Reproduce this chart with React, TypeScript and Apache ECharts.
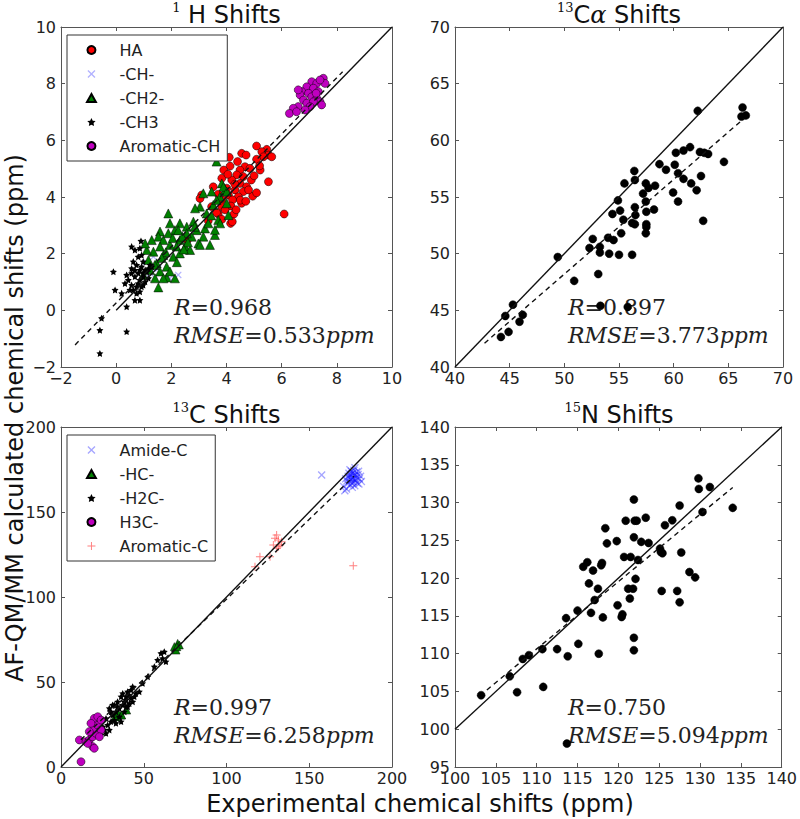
import React, { useEffect, useRef } from 'react';
import * as echarts from 'echarts';

// ---------- 1H panel ----------
const haPts = [[5.09,5.80],[5.46,5.68],[5.28,5.60],[4.55,5.54],[4.71,5.48],[5.52,5.48],[5.34,5.42],[5.09,5.33],[5.64,5.42],[4.13,5.09],[4.67,5.07],[4.49,4.95],[4.85,5.01],[5.22,4.95],[4.37,4.78],[3.83,4.66],[4.19,4.60],[4.61,4.72],[3.52,4.36],[4.49,4.48],[4.73,4.36],[4.01,4.31],[4.31,4.25],[5.52,4.54],[4.61,4.19],[4.07,4.07],[4.43,4.01],[4.95,4.03],[3.10,4.07],[3.83,3.90],[4.22,3.90],[3.46,3.66],[3.83,3.66],[4.16,3.68],[4.55,3.78],[3.70,3.40],[4.27,3.40],[3.34,3.16],[3.83,3.21],[4.15,3.07],[6.09,3.40],[5.09,4.15],[3.04,3.95],[3.64,3.45],[4.21,3.13],[4.50,3.89],[4.70,3.85],[4.35,3.55],[3.95,3.55],[2.58,2.48],[4.90,4.60],[5.00,4.75],[4.40,5.25],[3.90,4.95],[4.05,4.80],[4.30,4.45],[3.70,4.10],[4.80,4.25],[5.20,5.10],[4.10,5.40]];
const chPts = [[1.35,1.89],[1.53,1.48],[1.23,1.31],[1.95,1.13],[2.25,1.25],[1.10,1.70],[3.90,4.15]];
const ch2Pts = [[3.16,4.13],[3.46,4.19],[3.76,4.01],[3.95,4.25],[3.04,3.66],[3.52,3.72],[3.28,3.42],[3.70,3.19],[3.58,2.66],[3.16,2.60],[2.92,2.83],[2.80,3.13],[2.56,2.95],[2.74,2.60],[2.31,3.07],[2.13,2.83],[1.95,3.07],[1.59,2.78],[1.53,2.60],[1.71,2.48],[1.89,2.72],[2.31,2.48],[2.50,2.25],[2.19,2.25],[1.95,2.31],[1.59,2.25],[1.35,2.07],[1.71,1.95],[2.07,1.89],[2.31,2.01],[2.68,2.13],[2.98,2.36],[3.40,2.31],[1.17,1.78],[1.47,1.66],[1.83,1.54],[1.59,1.37],[2.13,1.13],[1.83,1.16],[1.95,1.37],[1.53,0.81],[1.11,2.13],[1.05,2.36],[0.98,1.25],[1.23,1.42],[2.56,2.72],[3.22,2.89],[3.64,3.89],[4.01,3.78],[2.25,2.83],[1.89,3.42],[2.86,3.60],[3.34,3.07],[3.04,2.31],[1.29,2.48],[1.41,1.13],[1.71,1.13],[3.64,5.25],[3.83,4.48],[3.89,4.36],[4.01,4.19],[3.77,3.07],[4.07,3.36],[3.58,2.84],[2.40,2.60],[2.05,2.55],[1.80,2.05],[2.60,2.40],[2.20,1.70],[1.40,1.60],[2.85,2.95],[3.45,3.35],[1.65,1.85],[2.45,2.15]];
const ch3Pts = [[0.86,2.19],[0.92,1.95],[0.62,1.72],[0.56,1.48],[0.74,1.60],[0.98,1.72],[1.05,1.42],[0.80,1.31],[0.68,1.19],[0.86,1.07],[0.98,0.89],[0.74,0.83],[0.62,0.72],[0.86,0.66],[0.44,1.07],[0.32,0.95],[0.50,0.72],[-0.10,1.36],[-0.04,0.72],[0.20,0.60],[0.38,0.13],[0.68,0.36],[0.86,0.36],[-0.53,-0.28],[-0.59,-0.70],[0.38,-0.75],[-0.59,-1.52],[1.17,1.13],[0.80,1.89],[0.92,1.54],[1.11,1.36],[1.23,1.60],[0.68,2.13],[0.98,1.19],[0.80,0.95],[0.56,1.31],[0.38,1.25],[0.74,0.60],[0.92,0.83],[1.05,1.01],[0.56,0.89],[0.86,1.42],[0.68,1.42],[0.98,1.31],[1.17,1.48],[1.29,1.54],[0.56,2.25],[0.90,2.45]];
const aromHPts = [[7.09,8.07],[7.27,8.01],[7.51,8.19],[7.57,8.01],[6.91,7.89],[7.15,7.84],[6.73,7.72],[6.67,7.60],[6.97,7.66],[7.33,7.72],[7.09,7.54],[6.79,7.42],[7.27,7.48],[6.91,7.31],[6.60,7.19],[6.42,7.13],[6.28,6.95],[6.54,7.01],[7.39,7.36],[7.45,7.25],[7.15,7.36],[7.03,7.19],[6.85,7.07],[7.25,7.66],[7.39,8.13],[6.60,7.78]];
const hFit = [[-1.49,-1.22],[8.21,8.42]];
const hDiag = [[0,0],[10,10]];

// ---------- 13C-alpha panel ----------
const caPts = [[44.2,42.65],[44.6,44.5],[44.9,43.1],[45.3,45.5],[45.9,44.0],[46.2,44.6],[49.4,49.7],[50.9,47.6],[52.3,50.5],[52.6,51.3],[53.1,48.2],[53.25,50.6],[53.25,50.1],[54.0,51.4],[54.1,50.0],[54.5,51.2],[54.4,53.5],[54.9,54.7],[55.1,53.8],[55.0,49.9],[55.2,51.8],[55.4,53.0],[55.5,56.2],[56.2,52.7],[56.2,49.9],[56.4,57.3],[56.45,56.5],[56.45,54.1],[56.5,53.4],[56.45,52.6],[57.2,55.3],[57.45,56.2],[57.45,54.6],[57.5,52.6],[57.5,52.35],[57.45,51.8],[57.5,53.7],[57.7,55.8],[58.3,56.0],[58.2,53.9],[58.7,57.9],[59.3,57.4],[59.95,55.4],[60.1,57.85],[60.2,58.9],[60.4,57.1],[60.4,54.6],[60.9,59.1],[60.9,56.6],[61.5,59.4],[61.6,56.2],[62.1,55.6],[62.2,62.6],[62.4,58.97],[62.5,56.85],[62.8,58.9],[63.15,58.8],[62.7,52.9],[64.6,58.1],[66.3,62.9],[66.2,62.1],[66.6,62.2],[53.3,45.4],[55.8,45.3]];
const caFit = [[42.7,42.1],[66.4,61.9]];
const caDiag = [[40,40],[70,70]];

// ---------- 13C panel ----------
const amidePts = [[172.0,169.5],[173.5,171.0],[174.2,168.0],[175.0,170.5],[175.8,172.5],[176.5,169.0],[177.2,171.5],[178.0,168.5],[178.8,170.2],[179.5,172.0],[180.3,169.5],[181.0,171.0],[174.8,166.0],[176.0,166.8],[177.5,165.5],[173.0,166.5],[172.5,163.5],[171.5,162.5],[175.5,174.0],[177.0,174.5],[178.5,173.5],[176.2,170.0],[175.3,168.8],[177.8,169.6],[174.0,172.8],[179.0,167.0],[180.0,166.5],[181.5,168.0],[176.8,167.5],[175.0,171.8],[173.8,170.2],[178.3,171.8],[176.6,173.0],[174.6,174.8],[177.6,176.0],[172.8,168.2],[179.8,174.0],[176.0,164.5],[170.8,165.0],[157.5,171.8]];
const hcPts = [[70.5,72.7],[68.5,70.8],[71.5,71.8],[69.5,68.8],[70.0,70.8],[36.3,30.6],[34.2,29.6],[36.7,30.6],[32.6,29.6],[39.7,33.5],[34.6,31.6]];
const h2cPts = [[26.2,21.8],[28.2,24.7],[30.2,26.7],[27.2,28.6],[31.2,30.6],[33.2,32.5],[35.2,34.5],[37.3,36.5],[39.3,39.4],[41.3,42.3],[42.3,45.3],[43.3,47.2],[40.3,44.3],[36.3,41.4],[34.2,38.4],[32.2,36.5],[29.2,34.5],[30.2,32.5],[24.2,18.8],[25.2,23.7],[29.2,21.8],[32.2,27.6],[35.2,29.6],[38.3,32.5],[40.3,35.5],[43.3,38.4],[44.3,41.4],[37.3,43.3],[39.3,35.5],[47.3,44.3],[49.3,49.2],[52.4,53.1],[60.4,66.9],[62.4,67.8],[61.4,63.9],[63.4,62.0],[56.4,59.0],[58.4,62.9],[33.2,25.7],[36.3,26.7],[27.2,19.8],[31.2,36.5],[34.2,35.5],[38.3,38.4],[41.3,37.4],[42.3,40.4],[39.3,41.4],[45.3,43.3]];
const h3cPts = [[12.1,3.1],[11.1,15.9],[15.1,14.9],[17.1,15.9],[19.1,17.8],[21.1,19.8],[20.1,22.7],[22.2,24.7],[20.1,28.6],[22.2,29.6],[24.2,27.6],[17.1,20.8],[19.1,12.0],[20.1,11.0],[16.1,13.9],[24.2,21.8],[18.1,25.7],[23.2,17.8]];
const aromCPts = [[130.3,136.5],[131.3,133.5],[128.3,130.6],[132.3,130.6],[130.3,128.6],[120.2,123.7],[117.2,117.8],[126.3,123.7],[176.6,118.4],[129.3,134.5],[133.3,132.5],[131.3,129.6]];
const cFit = [[12,16],[177,171]];
const cDiag = [[0,0],[200,200]];

// ---------- 15N panel ----------
const nPts = [[103.2,104.5],[106.7,107.0],[107.6,104.9],[108.3,109.3],[109.05,109.8],[110.8,105.6],[110.7,110.6],[112.5,110.6],[113.6,114.7],[113.8,109.65],[113.7,98.1],[115.0,115.7],[115.1,111.3],[115.7,121.5],[116.2,122.1],[116.4,119.3],[116.65,115.4],[116.9,121.0],[117.1,117.1],[117.5,118.6],[117.6,110.0],[117.9,121.7],[118.0,122.0],[118.1,114.8],[118.4,126.6],[118.6,124.6],[119.8,124.9],[119.9,116.4],[120.4,114.85],[120.5,115.2],[120.7,122.8],[120.9,127.6],[121.2,118.6],[121.4,117.3],[121.5,122.8],[121.8,118.6],[121.9,130.4],[121.9,125.4],[122.0,127.6],[122.1,119.9],[121.9,112.1],[121.9,110.45],[122.25,127.6],[122.4,122.4],[122.8,124.8],[123.35,128.0],[123.7,124.65],[125.1,123.9],[125.2,123.45],[125.4,123.3],[125.3,118.3],[125.7,127.0],[126.6,127.65],[127.2,118.3],[127.5,116.8],[127.5,129.6],[127.7,123.4],[128.7,120.8],[129.4,120.1],[129.8,133.2],[129.85,131.8],[130.3,128.75],[131.2,132.05],[134.0,129.3]];
const nFit = [[103.9,105.2],[134.0,132.0]];
const nDiag = [[100,100],[140,140]];

// axis ranges [min, max, interval]
const xRanges = [[-2, 10, 2], [40, 70, 5], [0, 200, 50], [100, 140, 5]];
const yRanges = [[-2, 10, 2], [40, 70, 5], [0, 200, 50], [95, 140, 5]];
const titles = ['1', '13', '13', '15'];
const statR = ['0.968', '0.897', '0.997', '0.750'];
const statRMSE = ['0.533', '3.773', '6.258', '5.094'];

const STAR = 'path://M0,-10L2.94,-4.05L9.51,-3.09L4.76,1.55L5.88,8.09L0,5L-5.88,8.09L-4.76,1.55L-9.51,-3.09L-2.94,-4.05Z';
const XMARK = 'path://M0,1.2L1.2,0L5,3.8L8.8,0L10,1.2L6.2,5L10,8.8L8.8,10L5,6.2L1.2,10L0,8.8L3.8,5Z';
const PLUS = 'path://M4.4,0H5.6V4.4H10V5.6H5.6V10H4.4V5.6H0V4.4H4.4Z';
const TRI = 'path://M5,0L10,9L0,9Z';

const grids = [
  { left: 61, top: 27, width: 331, height: 340 },
  { left: 455, top: 27, width: 328, height: 340 },
  { left: 61, top: 427, width: 331, height: 340 },
  { left: 455, top: 427, width: 328, height: 340 },
];

const AX = '#555';
const FONT = 'DejaVu Sans';
const fmt = (v: number) => (v < 0 ? '\u2212' + Math.abs(v) : String(v));

function axes(kind: 'x' | 'y', gi: number, r: number[]) {
  const base: any = {
    type: 'value', gridIndex: gi, min: r[0], max: r[1], interval: r[2],
    splitLine: { show: false },
    axisLine: { show: true, onZero: false, lineStyle: { color: AX, width: 1 } },
    axisTick: { show: true, inside: true, length: 4, lineStyle: { color: AX } },
  };
  return [
    { ...base, position: kind === 'x' ? 'bottom' : 'left',
      axisLabel: { show: true, fontSize: 16, color: '#222', fontFamily: FONT, margin: kind === 'x' ? 3 : 5, formatter: fmt } },
    { ...base, position: kind === 'x' ? 'top' : 'right', axisLabel: { show: false } },
  ];
}

function scatter(name: string, gi: number, data: number[][], symbol: string, size: number, color: string, border = true) {
  return {
    type: 'scatter', name, xAxisIndex: gi * 2, yAxisIndex: gi * 2, data, symbol, symbolSize: size,
    itemStyle: border ? { color, borderColor: '#000', borderWidth: 0.5, opacity: 1 } : { color, opacity: 1 },
    silent: true, z: 2,
  };
}

function line(gi: number, data: number[][], dashed: boolean) {
  return {
    type: 'line', xAxisIndex: gi * 2, yAxisIndex: gi * 2, data, symbol: 'none', showSymbol: false,
    lineStyle: { color: '#111', width: 1.4, type: dashed ? [5, 4] : 'solid' }, silent: true, z: 3,
  };
}

function legend(top: number, items: { name: string; icon: string }[]) {
  return {
    data: items, orient: 'vertical', left: 67, top, itemWidth: 46, itemHeight: 8, itemGap: 8,
    padding: [7, 7, 7, 19], borderColor: '#333', borderWidth: 1, backgroundColor: '#fff',
    selectedMode: false, symbolKeepAspect: true,
    textStyle: { fontSize: 16, lineHeight: 16, fontFamily: FONT, color: '#222' },
  };
}

function buildOption() {
  const xAxis: any[] = [];
  const yAxis: any[] = [];
  for (let i = 0; i < 4; i++) {
    xAxis.push(...axes('x', i, xRanges[i]));
    yAxis.push(...axes('y', i, yRanges[i]));
  }
  const series: any[] = [
    scatter('HA', 0, haPts, 'circle', 8, '#ff0000'),
    scatter('-CH-', 0, chPts, XMARK, 7, 'rgba(0,0,255,0.3)', false),
    scatter('-CH2-', 0, ch2Pts, 'triangle', 9, '#008000'),
    scatter('-CH3', 0, ch3Pts, STAR, 7, '#000000', false),
    scatter('Aromatic-CH', 0, aromHPts, 'circle', 8, '#bf00bf'),
    line(0, hDiag, false), line(0, hFit, true),
    scatter('Cα', 1, caPts, 'circle', 8, '#000000'),
    line(1, caDiag, false), line(1, caFit, true),
    scatter('Amide-C', 2, amidePts, XMARK, 8, 'rgba(0,0,255,0.35)', false),
    scatter('-HC-', 2, hcPts, 'triangle', 8, '#008000'),
    scatter('-H2C-', 2, h2cPts, STAR, 7, '#000000', false),
    scatter('H3C-', 2, h3cPts, 'circle', 8, '#bf00bf'),
    scatter('Aromatic-C', 2, aromCPts, PLUS, 8, 'rgba(255,0,0,0.5)', false),
    line(2, cDiag, false), line(2, cFit, true),
    scatter('N', 3, nPts, 'circle', 8, '#000000'),
    line(3, nDiag, false), line(3, nFit, true),
  ];

  const rich = {
    s: { fontFamily: 'DejaVu Serif', fontSize: 13, verticalAlign: 'top', lineHeight: 28, fill: '#111' },
    t: { fontFamily: FONT, fontSize: 24, lineHeight: 28, fill: '#111' },
    g: { fontFamily: 'DejaVu Serif', fontStyle: 'italic', fontSize: 24, lineHeight: 28, fill: '#111' },
  };
  const titleTexts = [
    `{s|${titles[0]}}{t| H Shifts}`,
    `{s|${titles[1]}}{t|C}{g|α}{t| Shifts}`,
    `{s|${titles[2]}}{t|C Shifts}`,
    `{s|${titles[3]}}{t|N Shifts}`,
  ];
  const graphic: any[] = [];
  grids.forEach((g, i) => {
    graphic.push({
      type: 'text', x: g.left + g.width / 2, y: g.top - 12, silent: true,
      style: { text: titleTexts[i], rich, align: 'center', verticalAlign: 'middle' },
    });
    const sx = g.left + 113;
    const sy = g.top + 280;
    const mrich = {
      i: { fontFamily: 'DejaVu Serif', fontStyle: 'italic', fontSize: 22, fill: '#222' },
      n: { fontFamily: 'DejaVu Serif', fontSize: 22, fill: '#222' },
    };
    graphic.push({
      type: 'text', x: sx, y: sy, silent: true,
      style: { text: `{i|R}{n|=${statR[i]}}`, rich: mrich, align: 'left', verticalAlign: 'middle' },
    });
    graphic.push({
      type: 'text', x: sx, y: sy + 28, silent: true,
      style: { text: `{i|RMSE}{n|=${statRMSE[i]}}{i|ppm}`, rich: mrich, align: 'left', verticalAlign: 'middle' },
    });
  });
  graphic.push({
    type: 'text', x: 420, y: 804, silent: true,
    style: { text: 'Experimental chemical shifts (ppm)', font: `24px "${FONT}"`, fill: '#111', align: 'center', verticalAlign: 'middle' },
  });
  graphic.push({
    type: 'text', x: 15, y: 418, rotation: Math.PI / 2, silent: true,
    style: { text: 'AF-QM/MM calculated chemical shifts (ppm)', font: `24px "${FONT}"`, fill: '#111', align: 'center', verticalAlign: 'middle' },
  });

  return {
    animation: false,
    backgroundColor: '#fff',
    grid: grids.map((g) => ({ ...g, containLabel: false })),
    xAxis, yAxis, series, graphic,
    legend: [
      legend(35, [
        { name: 'HA', icon: 'circle' }, { name: '-CH-', icon: XMARK }, { name: '-CH2-', icon: TRI },
        { name: '-CH3', icon: STAR }, { name: 'Aromatic-CH', icon: 'circle' },
      ]),
      legend(435, [
        { name: 'Amide-C', icon: XMARK }, { name: '-HC-', icon: TRI }, { name: '-H2C-', icon: STAR },
        { name: 'H3C-', icon: 'circle' }, { name: 'Aromatic-C', icon: PLUS },
      ]),
    ],
  };
}

export default function App() {
  const ref = useRef<HTMLDivElement>(null);
  useEffect(() => {
    const chart = echarts.init(ref.current!, null, { renderer: 'svg' });
    chart.setOption(buildOption() as any);
    return () => chart.dispose();
  }, []);
  return (
    <div
      ref={ref}
      style={{ position: 'absolute', left: 0, top: 0, width: 800, height: 819, background: '#fff' }}
    />
  );
}
